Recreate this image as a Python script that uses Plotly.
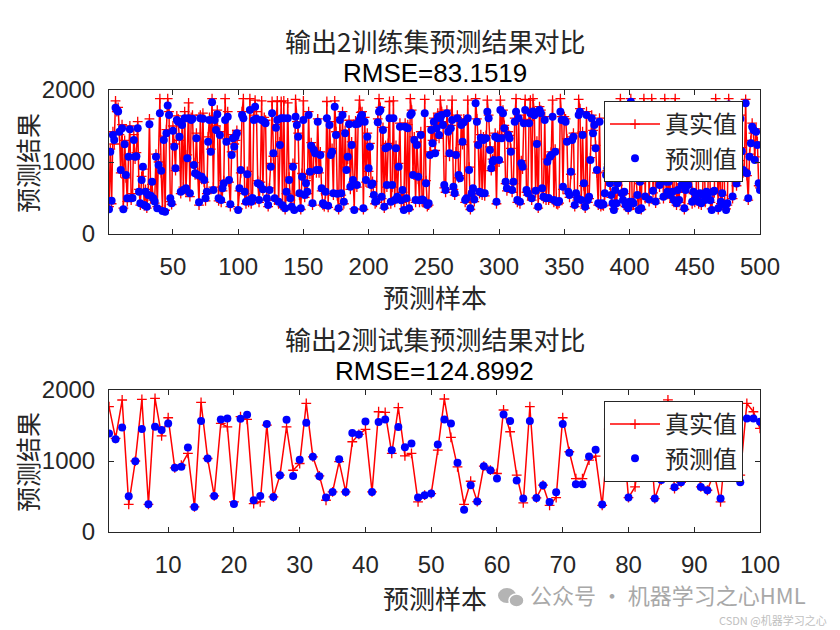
import plotly.graph_objects as go

# ---------------- data ----------------
train_true = [
    380, 1180, 420, 1420, 1250, 1850, 1700, 1760, 1380, 850,
    1520, 360, 1300, 780, 450, 1100, 1500, 470, 560, 1380,
    1040, 1130, 1560, 620, 400, 800, 900, 390, 620, 360,
    580, 1600, 500, 690, 470, 430, 1110, 380, 1000, 1880,
    850, 340, 1360, 330, 1450, 1880, 1700, 450, 410, 1500,
    1250, 880, 1640, 1600, 1300, 560, 1560, 650, 1700, 600,
    1100, 1820, 520, 1620, 1650, 990, 820, 1400, 850, 400,
    1650, 760, 1680, 720, 460, 560, 1350, 1620, 1180, 1880,
    650, 1640, 1500, 1720, 460, 1420, 440, 600, 740, 1880,
    1320, 1700, 720, 380, 1140, 1380, 1250, 1300, 1440, 350,
    600, 850, 1700, 1880, 560, 420, 870, 440, 1880, 420,
    480, 1650, 1860, 1700, 740, 440, 720, 1850, 600, 1620,
    1580, 470, 380, 640, 980, 1840, 1080, 470, 1520, 1850,
    420, 1280, 1840, 380, 1850, 340, 560, 1820, 790, 470,
    360, 980, 350, 1870, 1560, 1400, 540, 340, 840, 1850,
    510, 740, 560, 1700, 830, 1270, 400, 1200, 1160, 850,
    1600, 850, 1140, 600, 400, 380, 560, 1840, 370, 1560,
    1130, 1190, 540, 1850, 1420, 530, 340, 1620, 540, 1700,
    420, 1440, 930, 1040, 1580, 620, 1280, 720, 350, 1570,
    650, 1580, 1860, 1690, 1700, 340, 1620, 720, 1400, 870,
    1260, 650, 730, 520, 420, 440, 1600, 1880, 1760, 490,
    1480, 360, 1230, 650, 1260, 1840, 420, 650, 1850, 440,
    1230, 490, 980, 1540, 440, 580, 350, 1540, 470, 1520,
    340, 1880, 1720, 860, 1350, 440, 1280, 760, 440, 1420,
    450, 440, 1870, 740, 380, 400, 1140, 1490, 1300, 1610,
    1160, 1520, 1680, 1330, 1860, 1700, 1560, 640, 580, 1720,
    1460, 1080, 1510, 1860, 620, 540, 1140, 1650, 780, 810,
    1560, 1240, 1600, 440, 470, 1860, 930, 340, 540, 600,
    450, 1880, 1600, 1280, 560, 1380, 540, 1350, 530, 1370,
    1860, 1650, 1210, 880, 1040, 1000, 1400, 420, 1370, 1000,
    1860, 1380, 1720, 1510, 700, 600, 1420, 1370, 1190, 580,
    700, 1610, 1880, 440, 1650, 420, 1020, 900, 1590, 1870,
    580, 540, 1580, 1860, 470, 1880, 1700, 570, 1290, 360,
    1770, 1720, 600, 490, 1630, 470, 1040, 470, 1040, 1140,
    1860, 440, 1180, 420, 410, 430, 1880, 1630, 620, 1630,
    1600, 1320, 560, 510, 830, 1350, 1400, 380, 540, 470,
    1870, 1740, 440, 1420, 670, 360, 1700, 440, 490, 1060,
    1650, 1440, 1560, 1230, 850, 400, 1610, 380, 400, 390,
    540, 860, 880, 970, 680, 510, 400, 350, 580, 400,
    680, 1450, 1880, 540, 440, 560, 380, 400, 340, 420,
    1880, 420, 400, 840, 790, 520, 350, 700, 340, 1350,
    1880, 490, 1500, 1750, 450, 1240, 1880, 570, 1400, 430,
    990, 1550, 650, 760, 1350, 490, 1880, 700, 560, 760,
    510, 1450, 560, 440, 1880, 400, 640, 440, 1000, 650,
    1600, 340, 580, 740, 650, 970, 1300, 420, 560, 440,
    510, 1650, 420, 540, 400, 510, 1400, 440, 560, 510,
    1500, 440, 350, 560, 570, 1880, 850, 340, 1150, 420,
    540, 1550, 380, 350, 400, 1880, 1350, 1700, 490, 1250,
    1600, 670, 1450, 1020, 1650, 1200, 850, 900, 1870, 810,
    470, 1110, 1300, 1540, 1400, 1070, 1460, 1280, 670, 640,
]

train_pred = [
    343, 1144, 463, 1375, 1306, 1755, 1722, 1700, 1421, 889,
    1468, 343, 1245, 820, 495, 1074, 1454, 495, 500, 1306,
    1074, 1080, 1468, 588, 426, 750, 935, 403, 588, 380,
    542, 1523, 530, 727, 495, 450, 1074, 357, 958, 1676,
    880, 320, 1306, 310, 1398, 1783, 1653, 495, 426, 1435,
    1213, 912, 1583, 1560, 1352, 588, 1514, 611, 1606, 634,
    1051, 1606, 565, 1583, 1600, 958, 843, 1329, 820, 440,
    1606, 796, 1600, 750, 495, 588, 1282, 1583, 1144, 1829,
    611, 1583, 1444, 1662, 495, 1375, 472, 634, 704, 1583,
    1282, 1630, 750, 412, 1097, 1329, 1213, 1352, 1398, 333,
    634, 889, 1653, 1606, 588, 449, 829, 470, 1722, 449,
    500, 1583, 1769, 1600, 704, 472, 680, 1583, 620, 1560,
    1537, 495, 403, 611, 935, 1676, 1120, 495, 1477, 1583,
    449, 1236, 1606, 400, 1606, 357, 588, 1606, 750, 495,
    380, 935, 333, 1630, 1514, 1352, 565, 357, 796, 1583,
    542, 704, 588, 1653, 866, 1227, 426, 1167, 1120, 889,
    1560, 889, 1097, 634, 426, 403, 588, 1606, 393, 1514,
    1097, 1144, 565, 1769, 1375, 560, 357, 1583, 565, 1653,
    449, 1398, 889, 1074, 1523, 657, 1236, 750, 333, 1523,
    680, 1530, 1583, 1630, 1653, 357, 1560, 750, 1352, 912,
    1213, 680, 700, 542, 449, 460, 1551, 1699, 1722, 518,
    1444, 380, 1190, 680, 1213, 1606, 449, 680, 1606, 472,
    1190, 518, 935, 1491, 470, 611, 333, 1491, 495, 1468,
    357, 1653, 1676, 820, 1306, 472, 1236, 796, 470, 1375,
    480, 470, 1676, 704, 403, 426, 1097, 1444, 1259, 1560,
    1120, 1468, 1630, 1375, 1606, 1653, 1514, 680, 611, 1676,
    1421, 1120, 1468, 1583, 657, 565, 1097, 1606, 820, 773,
    1514, 1282, 1551, 472, 495, 1606, 889, 357, 565, 634,
    480, 1815, 1560, 1236, 588, 1338, 565, 1306, 565, 1329,
    1699, 1606, 1167, 912, 1005, 1028, 1352, 449, 1329, 1028,
    1722, 1329, 1676, 1468, 727, 634, 1375, 1329, 1144, 611,
    727, 1560, 1699, 472, 1606, 449, 982, 935, 1537, 1722,
    611, 565, 1537, 1676, 495, 1700, 1650, 600, 1250, 380,
    1722, 1676, 634, 518, 1583, 495, 1005, 500, 1074, 1097,
    1630, 472, 1144, 449, 440, 460, 1699, 1583, 657, 1583,
    1560, 1282, 588, 542, 866, 1306, 1352, 403, 565, 495,
    1653, 1699, 472, 1375, 704, 380, 1653, 472, 518, 1028,
    1606, 1398, 1514, 1190, 889, 426, 1560, 403, 426, 410,
    565, 820, 912, 935, 704, 542, 426, 333, 611, 426,
    704, 1400, 1500, 565, 472, 588, 403, 426, 357, 449,
    1838, 449, 426, 796, 820, 542, 333, 727, 357, 1300,
    1600, 520, 1450, 1700, 480, 1200, 1550, 600, 1350, 450,
    958, 1500, 680, 727, 1300, 518, 1650, 727, 588, 727,
    542, 1400, 588, 472, 1700, 426, 611, 472, 958, 680,
    1550, 357, 611, 704, 680, 935, 1250, 449, 588, 472,
    542, 1600, 449, 565, 426, 542, 1350, 472, 588, 542,
    1450, 470, 333, 588, 600, 1700, 889, 357, 1100, 449,
    565, 1500, 403, 333, 426, 1800, 1300, 1650, 520, 1200,
    1550, 700, 1400, 980, 1600, 1150, 889, 866, 1815, 843,
    495, 1074, 1259, 1491, 1444, 1028, 1421, 1236, 704, 611,
]

test_true = [
    1765, 1320, 1859, 390, 1000, 1868, 390, 1882, 1355, 1609,
    904, 941, 1106, 353, 1826, 1035, 508, 1529, 1482, 423,
    1624, 1586, 400, 423, 1506, 494, 800, 1482, 870, 965,
    1812, 1059, 790, 447, 565, 990, 565, 1271, 1374, 1445,
    565, 1694, 1685, 1106, 1751, 1073, 1106, 423, 518, 541,
    1153, 1873, 1332, 918, 390, 715, 428, 927, 871, 824,
    1718, 1412, 800, 409, 1765, 480, 659, 376, 485, 1609,
    1130, 753, 753, 1012, 1068, 376, 1450, 890, 1550, 485,
    635, 1350, 1700, 471, 734, 1860, 610, 701, 1550, 1250,
    635, 588, 833, 423, 1450, 1650, 800, 1812, 1694, 1459,
]

test_pred = [
    1388, 1308, 1473, 504, 998, 1449, 390, 1482, 1435, 1529,
    904, 918, 1191, 353, 1562, 1035, 508, 1586, 1600, 395,
    1595, 1652, 447, 508, 1520, 494, 800, 1581, 790, 1016,
    1539, 1059, 786, 485, 565, 1026, 565, 1393, 1374, 1558,
    565, 1548, 1586, 1153, 1478, 1195, 1247, 485, 518, 541,
    1233, 1586, 1529, 974, 315, 659, 428, 927, 871, 753,
    1656, 1562, 725, 471, 1562, 480, 659, 424, 560, 1520,
    1115, 673, 673, 1064, 1158, 386, 1400, 885, 1500, 485,
    856, 1300, 1650, 471, 734, 1750, 631, 701, 1500, 1200,
    635, 588, 833, 471, 1400, 1600, 701, 1600, 1600, 1553,
]

assert len(train_true) == 500 and len(train_pred) == 500
assert len(test_true) == 100 and len(test_pred) == 100

train_idx = list(range(1, len(train_true) + 1))
test_idx = list(range(1, len(test_true) + 1))

train_title = "输出2训练集预测结果对比"
train_rmse = "RMSE=83.1519"
test_title = "输出2测试集预测结果对比"
test_rmse = "RMSE=124.8992"
x_label = "预测样本"
y_label = "预测结果"
train_xticks = [50, 100, 150, 200, 250, 300, 350, 400, 450, 500]
test_xticks = [10, 20, 30, 40, 50, 60, 70, 80, 90, 100]
y_ticks = [0, 1000, 2000]

# ---------------- styling ----------------
W, H = 840, 630
OFF = 8  # the page body margin shifts the figure by 8 px
AX = "#262626"
NUM_FONT = "Liberation Sans, Arial, sans-serif"
CJK_FONT = "Noto Sans CJK SC, sans-serif"


def px(x):
    return (x - OFF) / W


def py(y):
    return 1 - (y - OFF) / H


fig = go.Figure()

line_style = dict(color="red", width=1.5)
plus_marker = dict(symbol="cross-thin", size=7, color="red",
                   line=dict(color="red", width=1.3))
dot_marker = dict(symbol="circle", size=8, color="blue",
                  line=dict(width=0))

fig.add_trace(go.Scatter(x=train_idx, y=train_true, mode="lines+markers",
                         line=line_style, marker=plus_marker, name="真实值",
                         xaxis="x", yaxis="y", legend="legend"))
fig.add_trace(go.Scatter(x=train_idx, y=train_pred, mode="markers",
                         marker=dot_marker, name="预测值",
                         xaxis="x", yaxis="y", legend="legend"))
fig.add_trace(go.Scatter(x=test_idx, y=test_true, mode="lines+markers",
                         line=line_style, marker=plus_marker, name="真实值",
                         xaxis="x2", yaxis="y2", legend="legend2"))
fig.add_trace(go.Scatter(x=test_idx, y=test_pred, mode="markers",
                         marker=dot_marker, name="预测值",
                         xaxis="x2", yaxis="y2", legend="legend2"))

axis_common = dict(showline=True, linecolor=AX, linewidth=1, mirror="ticks",
                   ticks="inside", ticklen=5, tickcolor=AX, tickwidth=1,
                   showgrid=False, zeroline=False, automargin=False,
                   tickfont=dict(family=NUM_FONT, size=24, color=AX))

x_dom = [px(109), px(760)]
legend_common = dict(xanchor="right", yanchor="top",
                     bgcolor="white", bordercolor=AX, borderwidth=1,
                     font=dict(family=CJK_FONT, size=24, color=AX),
                     tracegroupgap=0, itemwidth=50)
fig.update_layout(
    width=W, height=H,
    paper_bgcolor="white", plot_bgcolor="white",
    margin=dict(l=0, r=0, t=0, b=0, pad=0, autoexpand=False),
    showlegend=True,
    xaxis=dict(domain=x_dom, range=[1, 500], tickvals=train_xticks,
               anchor="y", ticklabelstandoff=11, **axis_common),
    yaxis=dict(domain=[py(234), py(90)], range=[0, 2000], tickvals=y_ticks,
               anchor="x", ticklabelstandoff=8, **axis_common),
    xaxis2=dict(domain=x_dom, range=[1, 100], tickvals=test_xticks,
                anchor="y2", ticklabelstandoff=11, **axis_common),
    yaxis2=dict(domain=[py(532), py(390)], range=[0, 2000], tickvals=y_ticks,
                anchor="x2", ticklabelstandoff=8, **axis_common),
    legend=dict(x=px(743), y=py(101), **legend_common),
    legend2=dict(x=px(743), y=py(401), **legend_common),
)

cx = (109 + 760) / 2
annos = [
    (train_title, cx, 40, CJK_FONT, 26, AX, 0),
    (train_rmse, cx, 73, NUM_FONT, 26, "black", 0),
    (x_label, cx, 297, CJK_FONT, 26, AX, 0),
    (y_label, 27, 163, CJK_FONT, 25, AX, -90),
    (test_title, cx, 338, CJK_FONT, 26, AX, 0),
    (test_rmse, cx, 371, NUM_FONT, 26, "black", 0),
    (x_label, cx, 597, CJK_FONT, 26, AX, 0),
    (y_label, 27, 462, CJK_FONT, 25, AX, -90),
]
for text, x, y, fam, size, col, ang in annos:
    fig.add_annotation(text=text, x=px(x), y=py(y), xref="paper", yref="paper",
                       xanchor="center", yanchor="middle", showarrow=False,
                       borderpad=0, textangle=ang,
                       font=dict(family=fam, size=size, color=col))

# watermark present in the reference (icon + text)
fig.add_shape(type="circle", xref="paper", yref="paper",
              x0=px(498), x1=px(516), y0=py(603), y1=py(588),
              fillcolor="#b4b4b4", line=dict(width=0), layer="above")
fig.add_shape(type="circle", xref="paper", yref="paper",
              x0=px(509), x1=px(524), y0=py(607), y1=py(594),
              fillcolor="#b4b4b4", line=dict(color="white", width=1.5),
              layer="above")
fig.add_annotation(text="公众号 · 机器学习之心HML", x=px(529), y=py(594),
                   xref="paper", yref="paper", xanchor="left", yanchor="middle",
                   showarrow=False, borderpad=0,
                   font=dict(family=CJK_FONT, size=22, color="#a8a8a8"))
fig.add_annotation(text="CSDN @机器学习之心", x=px(828), y=py(620),
                   xref="paper", yref="paper", xanchor="right", yanchor="middle",
                   showarrow=False, borderpad=0,
                   font=dict(family=CJK_FONT, size=11, color="#c0c0c0"))

fig.write_html("out.html")
